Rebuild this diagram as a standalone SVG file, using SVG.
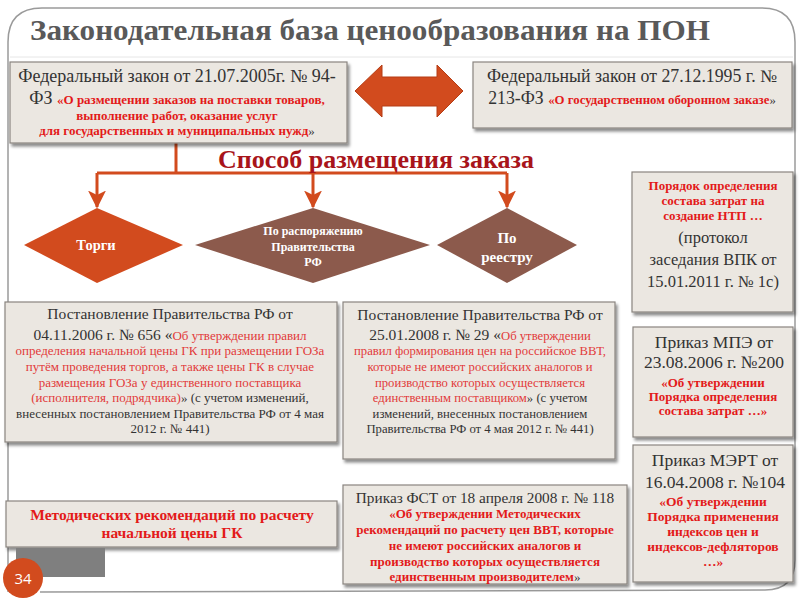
<svg xmlns="http://www.w3.org/2000/svg" width="800" height="600" viewBox="0 0 800 600">
<defs>
<filter id="sh" x="-5%" y="-5%" width="112%" height="120%">
<feDropShadow dx="2" dy="3" stdDeviation="1.5" flood-color="#000" flood-opacity="0.45"/>
</filter>
<marker id="ah" viewBox="0 0 12 12" refX="11" refY="6" markerWidth="6" markerHeight="6" orient="auto" markerUnits="strokeWidth">
<path d="M0,0 L12,6 L0,12 L3,6 Z" fill="#d24b1e"/>
</marker>
</defs>
<style>
.box{fill:#ebe7e1;stroke:#8a8580;stroke-width:1.2;filter:url(#sh)}
text{font-family:'Liberation Serif','DejaVu Serif',serif;text-anchor:middle}
.k{fill:#333333}
.r{fill:#e31a1a;font-weight:bold}
.rl{fill:#e23a3a}
.w{fill:#ffffff;font-weight:bold}
.conn{fill:none;stroke:#d24b1e;stroke-width:3}
</style>
<rect width="800" height="600" fill="#ffffff"/>
<path d="M8,592 L8,42 Q8,8 42,8 L762,8 Q795,8 795,42 L795,560 Q795,590 765,590 L40,592" fill="none" stroke="#9a9a9a" stroke-width="1.5"/>
<line x1="10" y1="57" x2="793" y2="57" stroke="#e6e6e6" stroke-width="1"/>
<g font-family="Liberation Serif, DejaVu Serif, serif">
<text x="30" y="40" style="text-anchor:start;font-weight:bold;font-size:29px;fill:#595959" textLength="680" lengthAdjust="spacingAndGlyphs">Законодательная база ценообразования на ПОН</text>

<g id="connectors">
<path class="conn" d="M176,143 V173"/>
<path class="conn" d="M97,173 H507"/>
<path class="conn" d="M97,173 V207" marker-end="url(#ah)"/>
<path class="conn" d="M313,173 V207" marker-end="url(#ah)"/>
<path class="conn" d="M507,173 V207" marker-end="url(#ah)"/>
</g>

<g id="law94">
<rect class="box" x="10" y="62" width="337" height="81"/>
<text x="177" y="82" class="k" style="font-size:18px">Федеральный закон от 21.07.2005г.  № 94-</text>
<text x="177" y="104" style="font-size:18px"><tspan class="k">ФЗ </tspan><tspan class="r" style="font-size:13px">«О размещении заказов на поставки товаров,</tspan></text>
<text x="177" y="120" class="r" style="font-size:13px">выполнение работ, оказание услуг</text>
<text x="177" y="135" class="r" style="font-size:13px"><tspan>для государственных и муниципальных нужд</tspan><tspan class="k" style="font-weight:normal">»</tspan></text>
</g>

<g id="double-arrow">
<path d="M355,91 L382,65 L382,77 L437,77 L437,65 L463,91 L437,117 L437,106 L382,106 L382,117 Z" fill="#d24b1e" stroke="#b53c14" stroke-width="1"/>
</g>

<g id="law213">
<rect class="box" x="473" y="62" width="319" height="66"/>
<text x="632" y="82" class="k" style="font-size:17.8px">Федеральный закон от 27.12.1995 г. №</text>
<text x="632" y="104" style="font-size:17.8px"><tspan class="k">213-ФЗ </tspan><tspan class="r" style="font-size:12.8px">«О государственном оборонном заказе</tspan><tspan class="k" style="font-size:12.8px">»</tspan></text>
</g>

<g id="method-title">
<text x="376" y="168" style="font-size:26px;font-weight:bold;fill:#a8141a">Способ размещения заказа</text>
</g>

<g id="torgi">
<polygon points="97,208 183,245 97,283 24,245" fill="#d24b1e"/>
<text x="96" y="250" class="w" style="font-size:14.5px">Торги</text>
</g>

<g id="rasp">
<polygon points="313,208 430,245 313,283 195,245" fill="#8c5a4c"/>
<text x="313" y="235" class="w" style="font-size:12px">По распоряжению</text>
<text x="313" y="251" class="w" style="font-size:12px">Правительства</text>
<text x="313" y="266" class="w" style="font-size:12px">РФ</text>
</g>

<g id="reestr">
<polygon points="507,208 577,245 507,283 437,245" fill="#8c5a4c"/>
<text x="507" y="243" class="w" style="font-size:15px">По</text>
<text x="507" y="262" class="w" style="font-size:15px">реестру</text>
</g>

<g id="ntp">
<rect class="box" x="632" y="172" width="161" height="140"/>
<text x="713" y="190" class="r" style="font-size:13px">Порядок определения</text>
<text x="713" y="205" class="r" style="font-size:13px">состава затрат на</text>
<text x="713" y="220" class="r" style="font-size:13px">создание НТП …</text>
<text x="713" y="243" class="k" style="font-size:16.5px">(протокол</text>
<text x="713" y="265" class="k" style="font-size:16.5px">заседания ВПК от</text>
<text x="713" y="287" class="k" style="font-size:16.5px">15.01.2011 г. № 1с)</text>
</g>

<g id="post656">
<rect class="box" x="5" y="302" width="332" height="140"/>
<text x="170" y="319" class="k" style="font-size:15.5px">Постановление Правительства РФ от</text>
<text x="170" y="340" style="font-size:15.5px"><tspan class="k">04.11.2006 г. № 656 «</tspan><tspan class="rl" style="font-size:13px">Об утверждении правил</tspan></text>
<text x="170" y="355" class="rl" style="font-size:13px">определения начальной цены ГК при размещении ГОЗа</text>
<text x="170" y="371" class="rl" style="font-size:13px">путём проведения торгов, а также цены ГК в случае</text>
<text x="170" y="387" class="rl" style="font-size:13px">размещения ГОЗа у единственного поставщика</text>
<text x="170" y="402" style="font-size:13px"><tspan class="rl">(исполнителя, подрядчика)</tspan><tspan class="k">» (с учетом изменений,</tspan></text>
<text x="170" y="418" class="k" style="font-size:13px">внесенных  постановлением Правительства РФ от 4 мая</text>
<text x="170" y="433" class="k" style="font-size:13px">2012 г. № 441)</text>
</g>

<g id="post29">
<rect class="box" x="343" y="302" width="272" height="157"/>
<text x="480" y="320" class="k" style="font-size:15.5px">Постановление Правительства РФ от</text>
<text x="480" y="340" style="font-size:15.5px"><tspan class="k">25.01.2008 г. № 29 «</tspan><tspan class="rl" style="font-size:12.7px">Об утверждении</tspan></text>
<text x="480" y="355" class="rl" style="font-size:12.7px">правил формирования цен на российское ВВТ,</text>
<text x="480" y="371" class="rl" style="font-size:12.7px">которые не имеют российских аналогов и</text>
<text x="480" y="387" class="rl" style="font-size:12.7px">производство которых осуществляется</text>
<text x="480" y="402" style="font-size:12.7px"><tspan class="rl">единственным поставщиком</tspan><tspan class="k">»  (с учетом</tspan></text>
<text x="480" y="418" class="k" style="font-size:12.7px">изменений, внесенных  постановлением</text>
<text x="480" y="433" class="k" style="font-size:12.7px">Правительства РФ от 4 мая 2012 г. № 441)</text>
</g>

<g id="mpe200">
<rect class="box" x="633" y="327" width="160" height="110"/>
<text x="714" y="348" class="k" style="font-size:17.5px">Приказ МПЭ от</text>
<text x="714" y="368" class="k" style="font-size:17.5px">23.08.2006 г. №200</text>
<text x="713" y="387" class="r" style="font-size:13px">«Об утверждении</text>
<text x="713" y="401" class="r" style="font-size:13px">Порядка определения</text>
<text x="713" y="415" class="r" style="font-size:13px">состава затрат …»</text>
</g>

<g id="mert104">
<rect class="box" x="633" y="445" width="160" height="137"/>
<text x="715" y="466" class="k" style="font-size:17.5px">Приказ МЭРТ от</text>
<text x="715" y="488" class="k" style="font-size:17.5px">16.04.2008 г. №104</text>
<text x="713" y="506" class="r" style="font-size:13.5px">«Об утверждении</text>
<text x="713" y="521" class="r" style="font-size:13.5px">Порядка применения</text>
<text x="713" y="536" class="r" style="font-size:13.5px">индексов цен и</text>
<text x="713" y="551" class="r" style="font-size:13.5px">индексов-дефляторов</text>
<text x="713" y="566" class="r" style="font-size:13.5px">…»</text>
</g>

<g id="metod">
<rect class="box" x="6" y="501" width="331" height="46"/>
<text x="172" y="520" class="r" style="font-size:15.5px">Методических рекомендаций по расчету</text>
<text x="172" y="538" class="r" style="font-size:15.5px">начальной цены ГК</text>
</g>

<g id="fst118">
<rect class="box" x="343" y="485" width="284" height="99"/>
<text x="485" y="503" class="k" style="font-size:15.3px">Приказ ФСТ от 18 апреля 2008 г. № 118</text>
<text x="485" y="518" class="r" style="font-size:13px">«Об утверждении Методических</text>
<text x="485" y="534" class="r" style="font-size:13px">рекомендаций по расчету цен ВВТ, которые</text>
<text x="485" y="550" class="r" style="font-size:13px">не имеют российских аналогов и</text>
<text x="485" y="566" class="r" style="font-size:13px">производство которых осуществляется</text>
<text x="485" y="581" style="font-size:13px"><tspan class="r">единственным производителем</tspan><tspan class="k">»</tspan></text>
</g>
</g>

<g id="page-number">
<rect x="16" y="548" width="89" height="29" fill="#7f7f7f"/>
<circle cx="23" cy="578" r="20" fill="#d24b1e"/>
<text x="23" y="584" style="font-family:'Open Sans','DejaVu Sans',sans-serif;font-size:15px;fill:#ffffff">34</text>
</g>
</svg>
